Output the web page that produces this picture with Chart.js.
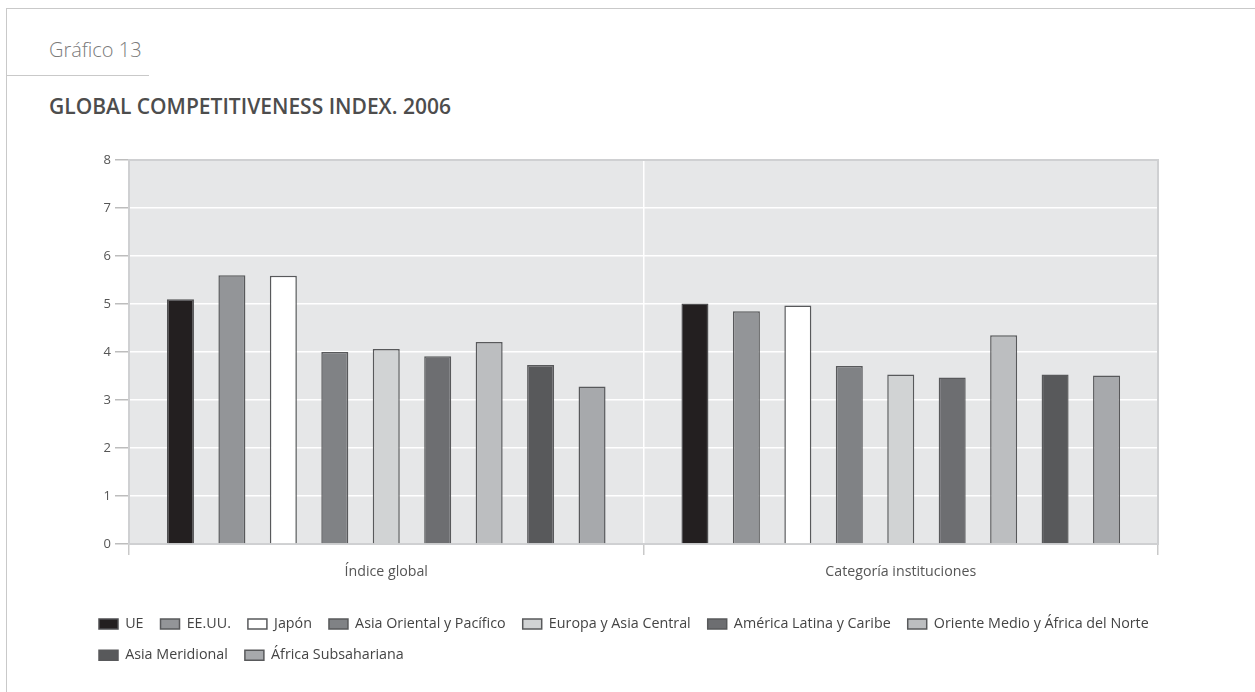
<!DOCTYPE html>
<html>
<head>
<meta charset="utf-8">
<script src="https://cdn.jsdelivr.net/npm/chart.js@4.4.1/dist/chart.umd.min.js"></script>
<style>
  html, body { margin: 0; padding: 0; background: #fff; }
  #page { position: relative; width: 1255px; height: 692px; overflow: hidden; font-family: "Open Sans", sans-serif; }
  .rule-top  { position: absolute; left: 6px; top: 8px; right: 0; border-top: 1.5px solid #c9c9c9; }
  .rule-left { position: absolute; left: 6px; top: 8px; bottom: 0; border-left: 1.5px solid #c9c9c9; }
  .rule-sep  { position: absolute; left: 6px; top: 75px; width: 143px; border-top: 1px solid #c9c9c9; }
  #kicker { position: absolute; left: 49px; top: 36px; font-size: 20px; font-weight: 300; color: #7b7b7b; white-space: nowrap; }
  #title  { position: absolute; left: 49px; top: 92px; font-size: 21px; font-weight: 600; color: #4d4d4d; white-space: nowrap; }
  #chart  { position: absolute; left: 0; top: 0; }
</style>
</head>
<body>
<div id="page">
  <div class="rule-top"></div>
  <div class="rule-left"></div>
  <div class="rule-sep"></div>
  <div id="kicker">Gráfico 13</div>
  <div id="title">GLOBAL COMPETITIVENESS INDEX. 2006</div>
  <canvas id="chart" width="1255" height="692"></canvas>
</div>
<script>
// Category groups on the x axis
const categories = ['Índice global', 'Categoría instituciones'];

// Regions (one bar per region in each group)
const regions = [
  'UE', 'EE.UU.', 'Japón', 'Asia Oriental y Pacífico', 'Europa y Asia Central',
  'América Latina y Caribe', 'Oriente Medio y África del Norte', 'Asia Meridional', 'África Subsahariana'
];

// Scores per region
const indiceGlobal           = [5.10, 5.60, 5.59, 4.00, 4.06, 3.91, 4.21, 3.73, 3.28];
const categoriaInstituciones = [5.01, 4.85, 4.97, 3.71, 3.53, 3.47, 4.35, 3.53, 3.51];

// Value axis ticks
const yTicks = [0, 1, 2, 3, 4, 5, 6, 7, 8];

// Grey shades for each region
const fills   = ['#231f20', '#939598', '#ffffff', '#808285', '#d1d3d4', '#6d6e71', '#bcbec0', '#58595b', '#a7a9ac'];
const borders = ['#4f4f51', '#58595b', '#58595b', '#58595b', '#58595b', '#58595b', '#58595b', '#58595b', '#58595b'];

Chart.defaults.font.family = '"Open Sans", sans-serif';
Chart.defaults.color = '#555';

// Plot background and light grey frame around the plotting area
const plotFrame = {
  id: 'plotFrame',
  beforeDraw(chart) {
    const { ctx, chartArea: a } = chart;
    ctx.save();
    ctx.fillStyle = '#e6e7e8';
    ctx.fillRect(a.left, a.top, a.right - a.left, a.bottom - a.top);
    ctx.restore();
  },
  beforeDatasetsDraw(chart) {
    const { ctx, chartArea: a } = chart;
    ctx.save();
    ctx.strokeStyle = '#cfd0d2';
    ctx.lineWidth = 2;
    ctx.strokeRect(a.left, a.top, a.right - a.left, a.bottom - a.top);
    ctx.restore();
  }
};

const datasets = regions.map((name, i) => ({
  label: name,
  data: [indiceGlobal[i], categoriaInstituciones[i]],
  backgroundColor: fills[i],
  borderColor: borders[i],
  borderWidth: 1.5,
  categoryPercentage: 0.9,
  barPercentage: 0.525,
  yAxisID: 'y'
}));

new Chart(document.getElementById('chart'), {
  type: 'bar',
  data: { labels: categories, datasets },
  plugins: [plotFrame],
  options: {
    responsive: false,
    animation: false,
    events: [],
    layout: { padding: { left: 82, right: 0, top: 160, bottom: 19.5 } },
    plugins: {
      tooltip: { enabled: false },
      legend: {
        position: 'bottom',
        align: 'start',
        labels: {
          boxWidth: 19,
          boxHeight: 10,
          padding: 17,
          color: '#444',
          font: { size: 14.3 }
        }
      }
    },
    scales: {
      x: {
        offset: true,
        grid: { offset: true, color: '#ffffff', lineWidth: 1.5, tickColor: '#c9c9c9', tickLength: 11, tickWidth: 1.5 },
        border: { display: false },
        ticks: { color: '#555', font: { size: 14.2 }, padding: 8 },
        afterFit(s) { s.height = 55.9; }
      },
      y: {
        min: 0,
        max: 8,
        afterBuildTicks(s) { s.ticks = yTicks.map(v => ({ value: v })); },
        grid: { color: '#ffffff', lineWidth: 1.5, tickColor: '#bdbdbd', tickLength: 14, tickWidth: 1.5 },
        border: { display: false },
        ticks: { color: '#555', font: { size: 13 }, padding: 4 },
        afterFit(s) { s.width = 47; }
      },
      yR: {
        position: 'right',
        grid: { display: false },
        border: { display: false },
        ticks: { display: false },
        afterFit(s) { s.width = 97; }
      }
    }
  }
});
</script>
</body>
</html>
